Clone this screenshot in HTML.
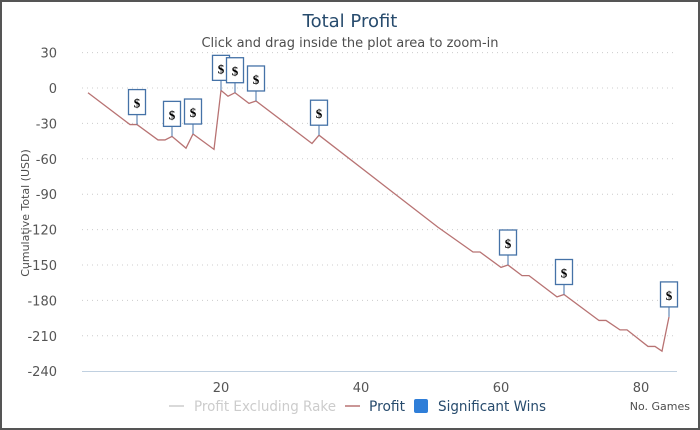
<!DOCTYPE html>
<html><head><meta charset="utf-8"><style>
body{margin:0;background:#fff;}
svg{display:block;font-family:"DejaVu Sans","Liberation Sans",sans-serif;}
</style></head><body>
<svg id="chart" width="700" height="430">
<rect x="1" y="1" width="698" height="428" fill="#fff" stroke="#555" stroke-width="2"/>
<text x="350" y="27" text-anchor="middle" font-size="18" fill="#274b6d">Total Profit</text>
<text x="350" y="47" text-anchor="middle" font-size="13" fill="#4d4d4d">Click and drag inside the plot area to zoom-in</text>
<text transform="translate(29,213) rotate(-90)" text-anchor="middle" font-size="11" fill="#4d4d4d">Cumulative Total (USD)</text>
<g id="grid"></g><g id="series"></g><g id="flags"></g>
<g>
<line x1="169" y1="406" x2="184" y2="406" stroke="#ccc" stroke-width="1.5"/>
<text x="194" y="411" font-size="14" fill="#ccc" textLength="142" lengthAdjust="spacingAndGlyphs">Profit Excluding Rake</text>
<line x1="345" y1="406" x2="360" y2="406" stroke="#b87373" stroke-width="1.5"/>
<text x="369" y="411" font-size="14" fill="#274b6d" textLength="36" lengthAdjust="spacingAndGlyphs">Profit</text>
<rect x="414" y="399" width="14" height="14" rx="2" fill="#2f7ed8"/>
<text x="438" y="411" font-size="14" fill="#274b6d" textLength="108" lengthAdjust="spacingAndGlyphs">Significant Wins</text>
</g>
<text x="690" y="410" text-anchor="end" font-size="11" fill="#4d4d4d">No. Games</text>
</svg>
<script>
const games=[1,7,8,11,12,13,15,16,19,20,21,22,24,25,33,34,51,56,57,60,61,63,64,68,69,74,75,77,78,81,82,83,84];
const profit=[-4,-31,-31,-44,-44,-41,-51,-39,-52,-2,-7,-4,-13,-11,-47,-40,-118,-139,-139,-152,-150,-159,-159,-177,-175,-197,-197,-205,-205,-219,-219,-223,-194];
const winGames=[8,13,16,20,22,25,34,61,69,84];
const yTicks=[30,0,-30,-60,-90,-120,-150,-180,-210,-240];
const xTicks=[20,40,60,80];
const NS='http://www.w3.org/2000/svg';
const L=82,R=677;
const xs=g=>81+7*g;
const ys=v=>88-v*35.4/30;
function mk(t,a,p){const e=document.createElementNS(NS,t);for(const k in a)e.setAttribute(k,a[k]);p.appendChild(e);return e;}
const grid=document.getElementById('grid');
yTicks.forEach(v=>{
  if(v>-240){const l=mk('line',{x1:L,x2:R,y1:ys(v),y2:ys(v),stroke:'#ccc','stroke-dasharray':'1,4'},grid);
  
  }
  const t=mk('text',{x:57,y:ys(v)+5,'text-anchor':'end','font-size':13,fill:'#555'},grid);t.textContent=v;
  
  
});
const ax=mk('line',{x1:L,x2:R,y1:371.5,y2:371.5,stroke:'#c0d0e0'},grid);


xTicks.forEach(g=>{
  const t=mk('text',{x:xs(g),y:392,'text-anchor':'middle','font-size':13,fill:'#555'},grid);t.textContent=g;
  
  
});
const pts=games.map((g,i)=>xs(g)+','+ys(profit[i])).join(' ');
const line=mk('polyline',{points:pts,fill:'none',stroke:'#b87373','stroke-width':1.3},document.getElementById('series'));


const fl=document.getElementById('flags');
winGames.forEach(g=>{
  const v=profit[games.indexOf(g)];
  const x=xs(g),y=ys(v);
  const grp=mk('g',{},fl);
  
  
  mk('line',{x1:x,x2:x,y1:y,y2:y-10,stroke:'#4572a7'},grp);
  let w=17,bx=x-8.5;if(bx+w>R+3){w=R+3-bx;}
  mk('rect',{x:bx,y:y-35,width:w,height:25,fill:'#fff',stroke:'#4572a7','stroke-width':1.3},grp);
  const t=mk('text',{x:x,y:y-17,'text-anchor':'middle','font-size':13,'font-weight':'bold',fill:'#000','font-family':'Liberation Serif,serif'},grp);t.textContent='$';
});
</script>
</body></html>
